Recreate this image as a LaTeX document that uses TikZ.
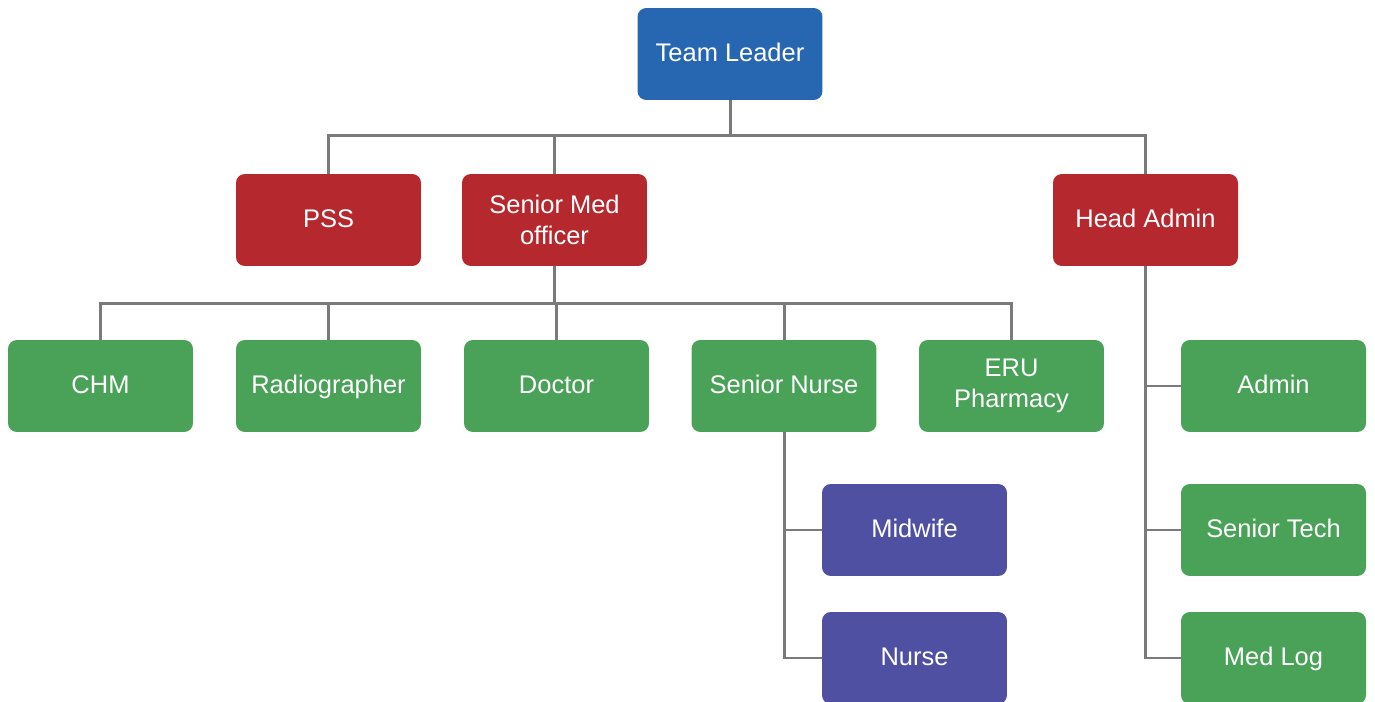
\documentclass[tikz,border=0pt]{standalone}
\usepackage{fontspec}
\setmainfont{Liberation Sans}
\definecolor{leadblue}{HTML}{2767B1}
\definecolor{headred}{HTML}{B5282E}
\definecolor{staffgreen}{HTML}{49A257}
\definecolor{nursepurple}{HTML}{5050A2}
\definecolor{linkgray}{HTML}{7A7A7C}
\tikzset{
	box/.style={rounded corners=5pt, minimum width=3.7cm, minimum height=1.84cm,
		text=white, align=center, font=\fontsize{14.5}{17.5}\selectfont},
	oneline/.style={text height=11pt, text depth=2pt},
	lead/.style={box, oneline, fill=leadblue},
	head/.style={box, oneline, fill=headred},
	staff/.style={box, oneline, fill=staffgreen},
	twoline/.style={text height=, text depth=},
	nursing/.style={box, oneline, fill=nursepurple},
	link/.style={draw=linkgray, line width=1.7pt}
}
\begin{document}
\begin{tikzpicture}[x=0.02cm,y=-0.02cm]
	\useasboundingbox (0,0) rectangle (1375,702);

	\node[lead] (leader) at (730,54) {Team Leader};

	\node[head] (pss) at (328.5,220) {PSS};
	\node[head, twoline] (smo) at (554.5,220) {Senior Med\\officer};
	\node[head] (hadmin) at (1145.5,220) {Head Admin};

	\node[staff] (chm) at (100.5,386) {CHM};
	\node[staff] (radio) at (328.5,386) {Radiographer};
	\node[staff] (doctor) at (556.5,386) {Doctor};
	\node[staff] (snurse) at (784,386) {Senior Nurse};
	\node[staff, twoline] (eru) at (1011.5,386) {ERU\\Pharmacy};
	\node[staff] (admin) at (1273.5,386) {Admin};
	\node[staff] (stech) at (1273.5,530) {Senior Tech};
	\node[staff] (medlog) at (1273.5,658) {Med Log};

	\node[nursing] (midwife) at (914.5,530) {Midwife};
	\node[nursing] (nurse) at (914.5,658) {Nurse};

	\draw[link] (leader.south) -- ++(0,35) -| (pss.north);
	\draw[link] (leader.south) -- ++(0,35) -| (smo.north);
	\draw[link] (leader.south) -- ++(0,35) -| (hadmin.north);

	\foreach \Child in {chm, radio, doctor, snurse, eru}{
		\draw[link] (smo.south) -- ++(0,37) -| (\Child.north);
	}

	\draw[link] (snurse.south) |- (midwife.west);
	\draw[link] (snurse.south) |- (nurse.west);

	\draw[link] (hadmin.south) |- (admin.west);
	\draw[link] (hadmin.south) |- (stech.west);
	\draw[link] (hadmin.south) |- (medlog.west);
\end{tikzpicture}
\end{document}
